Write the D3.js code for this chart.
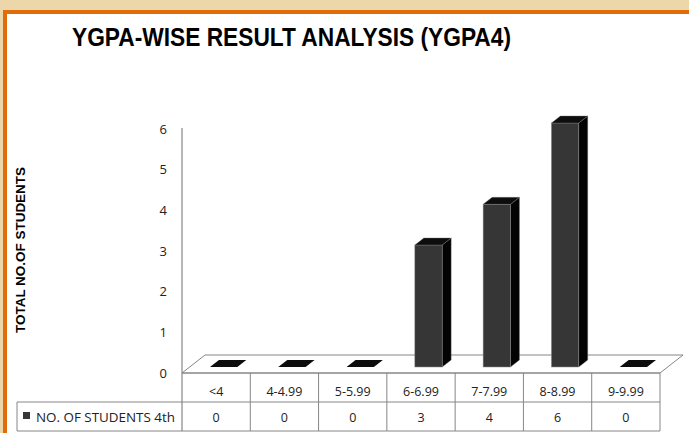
<!DOCTYPE html>
<html>
<head>
<meta charset="utf-8">
<script src="https://cdn.jsdelivr.net/npm/d3@7"></script>
<style>
  html, body { margin: 0; padding: 0; background: #ecd7ab; }
  svg { display: block; }
</style>
</head>
<body>
<svg id="chart" width="689" height="433"></svg>
<script>
const categories = ["<4", "4-4.99", "5-5.99", "6-6.99", "7-7.99", "8-8.99", "9-9.99"];
const students4th = [0, 0, 0, 3, 4, 6, 0];
const yTicks = [0, 1, 2, 3, 4, 5, 6];
const seriesName = "NO. OF STUDENTS 4th";

const svg = d3.select("#chart");
const width = 689, height = 433;

// frame: tan background, orange border, white panel
svg.append("rect").attr("width", width).attr("height", height).attr("fill", "#ecd7ab");
svg.append("rect").attr("x", 3).attr("y", 10).attr("width", width).attr("height", height)
  .attr("fill", "#e36c0a");
svg.append("rect").attr("x", 7).attr("y", 14).attr("width", width).attr("height", height)
  .attr("fill", "#ffffff");

svg.append("text")
  .attr("x", 72).attr("y", 46)
  .attr("font-family", "Liberation Sans, Arial, sans-serif")
  .attr("font-weight", "bold").attr("font-size", 25)
  .attr("textLength", 439).attr("lengthAdjust", "spacingAndGlyphs")
  .attr("fill", "#000")
  .text("YGPA-WISE RESULT ANALYSIS (YGPA4)");

svg.append("text")
  .attr("transform", "translate(25,250) rotate(-90)")
  .attr("text-anchor", "middle")
  .attr("font-family", "Liberation Sans, Arial, sans-serif")
  .attr("font-weight", "bold").attr("font-size", 12.5)
  .attr("textLength", 166).attr("lengthAdjust", "spacingAndGlyphs")
  .text("TOTAL NO.OF STUDENTS");

const left = 182, right = 660, floorY = 373;
const x = d3.scaleBand().domain(categories).range([left, right]).padding(0);
const y = d3.scaleLinear().domain([0, 6]).range([floorY, 129]);

const depth = { dx: 23, dy: -18 };      // floor depth
const barOff = { dx: 7.5, dy: -6 };     // bar front position inside the floor
const barDepth = { dx: 9, dy: -7 };     // bar thickness
const gridColor = "#868686";
const font = "Open Sans, Liberation Sans, sans-serif";

// floor
const floor = [[left, floorY], [right, floorY], [right + depth.dx, floorY + depth.dy], [left + depth.dx, floorY + depth.dy]];
svg.append("path")
  .attr("d", d3.line()(floor) + "Z")
  .attr("fill", "#fff").attr("stroke", gridColor).attr("stroke-width", 1);

// y axis
const yAxis = d3.axisLeft(y).tickValues(yTicks).tickSize(0).tickPadding(15).tickFormat(d3.format("d"));
const ga = svg.append("g").attr("transform", `translate(${left},0)`).call(yAxis);
ga.select(".domain").remove();
ga.selectAll("text").attr("font-family", font).attr("font-size", 13).attr("fill", "#222");
svg.append("line").attr("x1", left).attr("x2", left).attr("y1", 128).attr("y2", 431)
  .attr("stroke", gridColor).attr("stroke-width", 1.2);

// bars
const bw = x.bandwidth() * 0.4;
const bars = svg.append("g");
categories.forEach((c, i) => {
  const v = students4th[i];
  const x0 = x(c) + x.bandwidth() / 2 - bw / 2 + barOff.dx;
  const x1 = x0 + bw;
  const yb = floorY + barOff.dy;
  const yt = y(v) + barOff.dy;
  const g = bars.append("g");
  // side
  if (v > 0) {
    g.append("path")
      .attr("d", d3.line()([[x1, yb], [x1 + barDepth.dx, yb + barDepth.dy], [x1 + barDepth.dx, yt + barDepth.dy], [x1, yt]]) + "Z")
      .attr("fill", "#030303").attr("stroke", "#777").attr("stroke-width", 0.4);
    g.append("rect").attr("x", x0).attr("y", yt).attr("width", bw).attr("height", yb - yt)
      .attr("fill", "#363636").attr("stroke", "#8a8a8a").attr("stroke-width", 0.5);
  }
  // top
  g.append("path")
    .attr("d", d3.line()([[x0, yt], [x1, yt], [x1 + barDepth.dx, yt + barDepth.dy], [x0 + barDepth.dx, yt + barDepth.dy]]) + "Z")
    .attr("fill", "#0d0d0d").attr("stroke", v > 0 ? "#777" : "none").attr("stroke-width", 0.4);
});

// data table
const rowTop = floorY, rowMid = 402, rowBot = 431, legendLeft = 17;
const tbl = svg.append("g").attr("stroke", gridColor).attr("stroke-width", 1);
tbl.append("line").attr("x1", left).attr("x2", right).attr("y1", rowTop).attr("y2", rowTop);
tbl.append("line").attr("x1", legendLeft).attr("x2", right).attr("y1", rowMid).attr("y2", rowMid);
tbl.append("line").attr("x1", legendLeft).attr("x2", right).attr("y1", rowBot).attr("y2", rowBot);
tbl.append("line").attr("x1", legendLeft).attr("x2", legendLeft).attr("y1", rowMid).attr("y2", rowBot);
categories.forEach(c => {
  tbl.append("line").attr("x1", x(c) + x.bandwidth()).attr("x2", x(c) + x.bandwidth())
    .attr("y1", rowTop).attr("y2", rowBot);
});

svg.append("g").selectAll("text").data(categories).join("text")
  .attr("x", d => x(d) + x.bandwidth() / 2).attr("y", 396)
  .attr("text-anchor", "middle").attr("font-family", font).attr("font-size", 12.5).attr("fill", "#222")
  .text(d => d);
svg.append("g").selectAll("text").data(students4th).join("text")
  .attr("x", (d, i) => x(categories[i]) + x.bandwidth() / 2).attr("y", 422)
  .attr("text-anchor", "middle").attr("font-family", font).attr("font-size", 12.5).attr("fill", "#222")
  .text(d => d);

svg.append("rect").attr("x", 23).attr("y", 412).attr("width", 7).attr("height", 7).attr("fill", "#363636");
svg.append("text").attr("x", 36).attr("y", 422)
  .attr("font-family", font).attr("font-size", 13).attr("fill", "#222")
  .attr("textLength", 139).attr("lengthAdjust", "spacingAndGlyphs")
  .text(seriesName);
</script>
</body>
</html>
